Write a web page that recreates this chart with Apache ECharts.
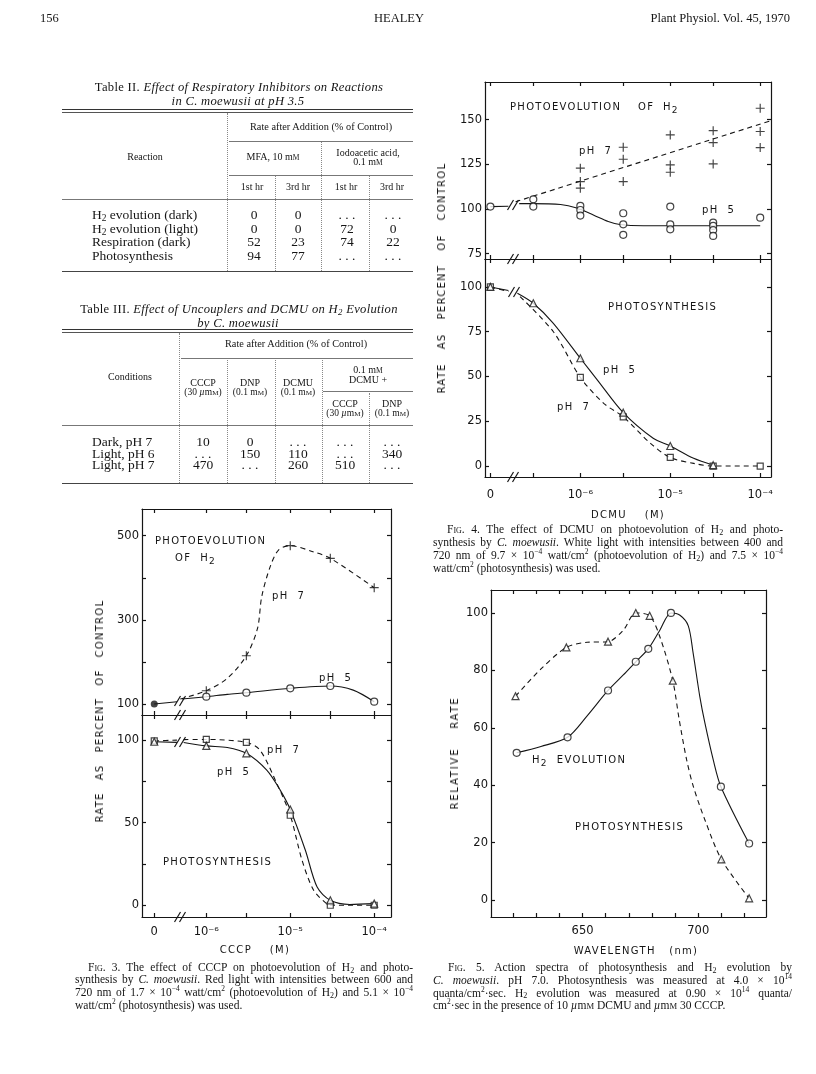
<!DOCTYPE html>
<html><head><meta charset="utf-8">
<script src="https://cdn.jsdelivr.net/npm/echarts@6/dist/echarts.min.js"></script>
<style>
html,body{margin:0;padding:0;background:#fff}
#page{position:relative;width:816px;height:1074px;background:#fff;overflow:hidden}
#c{position:absolute;left:0;top:0;width:816px;height:1074px;z-index:1}
.t{position:absolute;white-space:nowrap;line-height:1;color:#151515;z-index:2;font-family:'Liberation Serif',serif}
.r{position:absolute;z-index:2}
.lab{font-family:'DejaVu Sans',sans-serif;font-size:10px;letter-spacing:1.3px}
.sub{font-size:70%;position:relative;top:0.25em}
.csub{font-size:90%;position:relative;top:0.35em}
.sc{font-variant:small-caps}
</style></head>
<body><div id="page"><div id="c"></div></div>
<script>
// ---------------- DATA ----------------
// Fig. 4 (DCMU): concentrations (M); 0 = control
const fig4Conc = [0, 3e-7, 1e-6, 3e-6, 1e-5, 3e-5, 1e-4];
const fig4H2pH7 = [[], [], [122.8,115.3,111.6], [134.5,127.8,115.3], [141.4,124.6,120.5], [143.8,137.1,125.2], [156.3,143.3,134.3]];
const fig4H2pH5 = [[101.3], [105.4,101.3], [101.7,99.4,96.3], [97.6,91.4,85.5], [101.3,91.4,88.6], [92.3,90.5,88.2,84.9], [95.1]];
const fig4PSpH5 = [100, 90.9, 60.2, 29.8, 11.2, 0.5, null];
const fig4PSpH7 = [100, null, 49.5, 27.5, 4.8, 0, 0];
// hand-drawn curves of Fig. 4: [log10 M, value]
const fig4H2pH7Fit = [[-6.72,104],[-3.88,149.4]];
const fig4H2pH5Lead = [[-7,101.3],[-6.8,101.5]];
const fig4H2pH5Fit = [[-6.68,103],[-6.54,103],[-6.22,102.5],[-6.04,100.5],[-5.85,96.5],[-5.69,93],[-5.56,91.3],[-5.3,90.6],[-4,90.6]];
const fig4PSpH5Lead = [[-7,100],[-6.8,98]];
const fig4PSpH5Fit = [[-6.70,96.5],[-6.523,90.9],[-6.30,79.7],[-6,60.2],[-5.81,48],[-5.523,29.8],[-5.19,15.5],[-5,11.2],[-4.74,4.3],[-4.523,0.5]];
const fig4PSpH7Lead = [[-7,100],[-6.8,97.5]];
const fig4PSpH7Fit = [[-6.67,94.6],[-6.30,75],[-6,49.5],[-5.74,35],[-5.523,27.5],[-5.22,12.7],[-5,4.8],[-4.74,1.5],[-4.523,0],[-4,0]];
const fig4XLabels = ['0','10⁻⁶','10⁻⁵','10⁻⁴'];
const fig4XLabelConc = [0, 1e-6, 1e-5, 1e-4];
const fig4TopYTicks = [75,100,125,150];
const fig4BotYTicks = [0,25,50,75,100];

// Fig. 3 (CCCP)
const fig3Conc = [0, 1e-6, 3e-6, 1e-5, 3e-5, 1e-4];
const fig3H2pH7 = [null, 131.6, 214.8, 476.3, 446.3, 376.5];
const fig3H2pH5 = [100, 117.4, 126.9, 137.3, 142.8, 105.5];
const fig3PSpH7 = [99.5, 100.4, 98.6, 54.5, 0, 0];
const fig3PSpH5 = [99, 96.5, 92, 58, 3, 1];
const fig3H2pH5Lead = [[-6.62,100],[-6.35,105.5]];
const fig3H2pH5Fit = [[-6.29,112],[-6,117.4],[-5.75,123],[-5.523,126.9],[-5,137.3],[-4.523,142.8],[-4.25,133],[-4,105.5]];
const fig3H2pH7Fit = [[-6.31,112],[-6,131.6],[-5.75,161],[-5.523,214.8],[-5.39,280],[-5.34,355],[-5.24,426],[-5.14,466],[-5,476.3],[-4.73,462],[-4.523,446.3],[-4,376.5]];
const fig3PSpH7Lead = [[-6.62,99.5],[-6.35,100]];
const fig3PSpH7Fit = [[-6.27,100.3],[-6,100.4],[-5.523,98.6],[-5.36,93.9],[-5.16,73.7],[-5,54.5],[-4.86,27.3],[-4.72,9],[-4.56,0.6],[-4.523,0],[-4,0]];
const fig3PSpH5Lead = [[-6.62,99],[-6.35,98.6]];
const fig3PSpH5Fit = [[-6.27,98.6],[-6,96.5],[-5.75,95.5],[-5.523,92],[-5.28,81.8],[-5.12,69.7],[-5,58],[-4.82,33.3],[-4.68,11],[-4.523,3],[-4.29,0.5],[-4,1]];
const fig3XLabels = ['0','10⁻⁶','10⁻⁵','10⁻⁴'];
const fig3XLabelConc = [0, 1e-6, 1e-5, 1e-4];
const fig3TopYTicks = [100,200,300,400,500];
const fig3TopYLabels = [100,300,500];
const fig3BotYTicks = [0,25,50,75,100];
const fig3BotYLabels = [0,50,100];

// Fig. 5 (action spectra)
const fig5PSWl = [621,643,661,673,679,689,710,722];
const fig5PS   = [71,88,90,100,99,76.4,14.2,0.6];
const fig5H2Wl = [621.5,643.5,661,673,678.4,688.2,709.8,722];
const fig5H2   = [51.3,56.7,73,83,87.5,100,39.5,19.7];
const fig5PSFit = [[621,71],[632,80.5],[643,88],[652,89.8],[661,90],[667.6,94],[673,100],[679,99],[683.4,91.7],[689,76.4],[691.8,62.7],[695,48.8],[697.9,39.5],[702.9,27.9],[710,14.2],[722,0.6]];
const fig5H2Fit = [[621.5,51.3],[632,53.5],[643.5,56.7],[651.7,63.9],[661,73],[667.6,78.4],[673,83],[678.4,87.5],[683.4,94],[688.2,100],[692.1,99.2],[695.7,95.5],[697.8,86],[700.7,70.8],[702.9,61.6],[706.5,48.8],[709.8,39.5],[722,19.7]];
const fig5XTicks = [620,630,640,650,660,670,680,690,700,710,720];
const fig5XLabels = [650,700];
const fig5YTicks = [0,20,40,60,80,100];

// Tables
const t2Rows = ['H<span class="sub">2</span> evolution (dark)','H<span class="sub">2</span> evolution (light)','Respiration (dark)','Photosynthesis'];
const t2Vals = [['0','0','. . .','. . .'],['0','0','72','0'],['52','23','74','22'],['94','77','. . .','. . .']];
const t3Rows = ['Dark, pH 7','Light, pH 6','Light, pH 7'];
const t3Vals = [['10','0','. . .','. . .','. . .'],['. . .','150','110','. . .','340'],['470','. . .','260','510','. . .']];

// ---------------- LAYOUT HELPERS ----------------
const page = document.getElementById('page');
function put(html, x, y, o){
  o = o || {};
  const d = document.createElement('div');
  d.className = 't' + (o.cls ? ' ' + o.cls : '');
  d.innerHTML = html;
  const s = d.style;
  s.left = x + 'px'; s.top = y + 'px';
  if (o.size) s.fontSize = o.size + 'px';
  if (o.italic) s.fontStyle = 'italic';
  if (o.ls != null) s.letterSpacing = o.ls + 'px';
  if (o.ws != null) s.wordSpacing = o.ws + 'px';
  let tr;
  if (o.width){ s.width = o.width + 'px'; s.textAlign='justify'; s.textAlignLast='justify'; tr='translate(0,-50%)'; }
  else if (o.anchor === 'l') tr = 'translate(0,-50%)';
  else if (o.anchor === 'r') tr = 'translate(-100%,-50%)';
  else tr = 'translate(-50%,-50%)';
  if (o.rot) tr += ' rotate(-90deg)';
  s.transform = tr;
  page.appendChild(d);
  return d;
}
function hr(x1, x2, y, w, col, st){
  const d = document.createElement('div'); d.className='r';
  d.style.left=x1+'px'; d.style.top=y+'px'; d.style.width=(x2-x1)+'px'; d.style.height='0';
  d.style.borderTop=(w||1)+'px '+(st||'solid')+' '+(col||'#555');
  page.appendChild(d);
}
function vr(x, y1, y2, w, col, st){
  const d = document.createElement('div'); d.className='r';
  d.style.left=x+'px'; d.style.top=y1+'px'; d.style.height=(y2-y1)+'px'; d.style.width='0';
  d.style.borderLeft=(w||1)+'px '+(st||'dotted')+' '+(col||'#888');
  page.appendChild(d);
}

// ---------------- HEADER ----------------
put('156', 40, 18, {anchor:'l', size:12.5});
put('HEALEY', 399, 18, {size:12.5});
put('Plant Physiol. Vol. 45, 1970', 790, 18, {anchor:'r', size:12.5});

// ---------------- TABLE II ----------------
put('Table II. <i>Effect of Respiratory Inhibitors on Reactions</i>', 239, 87, {size:12.6, ls:0.3});
put('<i>in C. moewusii at pH 3.5</i>', 238, 101, {size:12.6, ls:0.3});
hr(62,413,109,1.3,'#333'); hr(62,413,112,1,'#555');
vr(227,113,271);
put('Rate after Addition (% of Control)', 321, 127, {size:10.3});
hr(229,413,141,1,'#777');
put('Reaction', 145, 157, {size:10});
put('MFA, 10 m<span style="font-size:75%">M</span>', 273, 157, {size:10});
put('Iodoacetic acid,', 368, 153, {size:10});
put('0.1 m<span style="font-size:75%">M</span>', 368, 162, {size:10});
vr(321,142,271);
hr(229,413,175,1,'#777');
['1st hr','3rd hr','1st hr','3rd hr'].forEach((h,i)=>put(h,[252,298,346,392][i],187,{size:10}));
vr(275,176,271); vr(369,176,271);
hr(62,413,199,1,'#777');
t2Rows.forEach((r,i)=>{
  const y = 215 + i*13.7;
  put(r, 92, y, {anchor:'l', size:13.5});
  t2Vals[i].forEach((v,j)=>put(v,[254,298,347,393][j],y,{size:13.5}));
});
hr(62,413,271,1.3,'#444');

// ---------------- TABLE III ----------------
put('Table III. <i>Effect of Uncouplers and DCMU on H<span class="sub">2</span> Evolution</i>', 239, 309, {size:12.6, ls:0.3});
put('<i>by C. moewusii</i>', 238, 323, {size:12.6, ls:0.3});
hr(62,413,329,1.3,'#333'); hr(62,413,332,1,'#555');
vr(179,333,483);
put('Rate after Addition (% of Control)', 296, 344, {size:10.3});
hr(181,413,358,1,'#777');
put('Conditions', 130, 377, {size:10});
put('CCCP', 203, 383, {size:10}); put('(30 <i>µ</i>m<span style="font-size:75%">M</span>)', 203, 393, {size:9.5});
put('DNP', 250, 383, {size:10}); put('(0.1 m<span style="font-size:75%">M</span>)', 250, 393, {size:9.5});
put('DCMU', 298, 383, {size:10}); put('(0.1 m<span style="font-size:75%">M</span>)', 298, 393, {size:9.5});
put('0.1 m<span style="font-size:75%">M</span>', 368, 370, {size:10});
put('DCMU +', 368, 380, {size:10});
vr(227,360,483); vr(275,360,483); vr(322,360,483); vr(369,393,483);
hr(323,413,391,1,'#777');
put('CCCP', 345, 404, {size:10}); put('(30 <i>µ</i>m<span style="font-size:75%">M</span>)', 345, 414, {size:9.5});
put('DNP', 392, 404, {size:10}); put('(0.1 m<span style="font-size:75%">M</span>)', 392, 414, {size:9.5});
hr(62,413,425,1,'#777');
t3Rows.forEach((r,i)=>{
  const y = 442 + i*11.7;
  put(r, 92, y, {anchor:'l', size:13.5});
  t3Vals[i].forEach((v,j)=>put(v,[203,250,298,345,392][j],y,{size:13.5}));
});
hr(62,413,483,1.3,'#444');

// ---------------- CHART ANNOTATIONS ----------------
const H2 = 'H<span class="csub">2</span>';
// Fig 4
put('PHOTOEVOLUTION', 510, 107, {anchor:'l', cls:'lab'});
put('OF', 638, 107, {anchor:'l', cls:'lab'});
put(H2, 663, 107, {anchor:'l', cls:'lab'});
put('pH&nbsp;&nbsp;7', 579, 151, {anchor:'l', cls:'lab'});
put('pH&nbsp;&nbsp;5', 702, 210, {anchor:'l', cls:'lab'});
put('PHOTOSYNTHESIS', 608, 307, {anchor:'l', cls:'lab'});
put('pH&nbsp;&nbsp;5', 603, 370, {anchor:'l', cls:'lab'});
put('pH&nbsp;&nbsp;7', 557, 407, {anchor:'l', cls:'lab'});
put('RATE AS PERCENT OF CONTROL', 442, 278, {cls:'lab', rot:true, ws:9.5});
put('DCMU&nbsp;&nbsp;&nbsp;&nbsp;(M)', 628, 515, {cls:'lab'});
// Fig 3
put('PHOTOEVOLUTION', 155, 541, {anchor:'l', cls:'lab'});
put('OF&nbsp;&nbsp;'+H2, 175, 558, {anchor:'l', cls:'lab'});
put('pH&nbsp;&nbsp;7', 272, 596, {anchor:'l', cls:'lab'});
put('pH&nbsp;&nbsp;5', 319, 678, {anchor:'l', cls:'lab'});
put('pH&nbsp;&nbsp;7', 267, 750, {anchor:'l', cls:'lab'});
put('pH&nbsp;&nbsp;5', 217, 772, {anchor:'l', cls:'lab'});
put('PHOTOSYNTHESIS', 163, 862, {anchor:'l', cls:'lab'});
put('RATE AS PERCENT OF CONTROL', 100, 711, {cls:'lab', rot:true, ws:7.5});
put('CCCP&nbsp;&nbsp;&nbsp;&nbsp;(M)', 255, 950, {cls:'lab'});
// Fig 5
put(H2+'&nbsp;&nbsp;EVOLUTION', 532, 760, {anchor:'l', cls:'lab'});
put('PHOTOSYNTHESIS', 575, 827, {anchor:'l', cls:'lab'});
put('RELATIVE RATE', 455, 753, {cls:'lab', rot:true, ws:14, ls:1.8});
put('WAVELENGTH&nbsp;&nbsp;&nbsp;(nm)', 636, 951, {cls:'lab'});

// ---------------- CAPTIONS ----------------
const HS = 'H<span class="sub">2</span>';
function caption(lines, x1, xIndent, x2, y0, dy){
  lines.forEach((l,i)=>{
    const x = i===0 ? xIndent : x1;
    const last = i === lines.length-1;
    put(l, x, y0 + i*dy, last ? {anchor:'l', size:11.5} : {width:x2-x, size:11.5});
  });
}
caption([
  '<span class="sc">Fig</span>. 4. The effect of DCMU on photoevolution of '+HS+' and photo-',
  'synthesis by <i>C. moewusii</i>. White light with intensities between 400 and',
  '720 nm of 9.7 × 10<sup style="font-size:65%">−4</sup> watt/cm<sup style="font-size:65%">2</sup> (photoevolution of '+HS+') and 7.5 × 10<sup style="font-size:65%">−4</sup>',
  'watt/cm<sup style="font-size:65%">2</sup> (photosynthesis) was used.'
], 433, 447, 783, 530, 12.6);
caption([
  '<span class="sc">Fig</span>. 3. The effect of CCCP on photoevolution of '+HS+' and photo-',
  'synthesis by <i>C. moewusii</i>. Red light with intensities between 600 and',
  '720 nm of 1.7 × 10<sup style="font-size:65%">−4</sup> watt/cm<sup style="font-size:65%">2</sup> (photoevolution of '+HS+') and 5.1 × 10<sup style="font-size:65%">−4</sup>',
  'watt/cm<sup style="font-size:65%">2</sup> (photosynthesis) was used.'
], 75, 88, 413, 968, 12.2);
caption([
  '<span class="sc">Fig</span>. 5. Action spectra of photosynthesis and '+HS+' evolution by',
  '<i>C. moewusii</i>. pH 7.0. Photosynthesis was measured at 4.0 × 10<sup style="font-size:65%">14</sup>',
  'quanta/cm<sup style="font-size:65%">2</sup>·sec. '+HS+' evolution was measured at 0.90 × 10<sup style="font-size:65%">14</sup> quanta/',
  'cm<sup style="font-size:65%">2</sup>·sec in the presence of 10 <i>µ</i>m<span style="font-size:75%">M</span> DCMU and <i>µ</i>m<span style="font-size:75%">M</span> 30 CCCP.'
], 433, 448, 792, 968, 12.3);

// ---------------- ECHARTS ----------------
const INK = '#151515';
const CF = 'DejaVu Sans';
const FIG4_ZERO = -7;      // axis position used for zero concentration (broken log axis)
const FIG3_ZERO = -6.62;
const p4 = c => c === 0 ? FIG4_ZERO : Math.log10(c);
const p3 = c => c === 0 ? FIG3_ZERO : Math.log10(c);

const grids = [
  {left:485, top:82,  width:286, height:177},
  {left:485, top:259, width:286, height:218},
  {left:142, top:509, width:249, height:206},
  {left:142, top:715, width:249, height:202},
  {left:491, top:590, width:275, height:327}
];
const lineSt = {color:INK, width:1.2};
function xAxes(gi, min, max, ticks, labels, fmt, margin){
  const base = () => ({gridIndex:gi, type:'value', min, max, splitLine:{show:false},
    axisLine:{show:true, onZero:false, lineStyle:lineSt},
    axisTick:{show:true, inside:true, length:4, customValues:ticks, lineStyle:lineSt}});
  const b = base(); b.position='bottom';
  b.axisLabel = labels ? {show:true, customValues:labels, formatter:fmt, margin:margin, fontFamily:CF, fontSize:11.5, color:INK} : {show:false};
  const t = base(); t.position='top'; t.axisLabel={show:false};
  return [b,t];
}
function yAxes(gi, min, max, ticks, labels){
  const base = () => ({gridIndex:gi, type:'value', min, max, splitLine:{show:false},
    axisLine:{show:true, onZero:false, lineStyle:lineSt},
    axisTick:{show:true, inside:true, length:4, customValues:ticks, lineStyle:lineSt}});
  const l = base(); l.position='left';
  l.axisLabel = {show:true, customValues:labels, margin:3, fontFamily:CF, fontSize:11.5, color:INK};
  const r = base(); r.position='right'; r.axisLabel={show:false};
  return [l,r];
}
const labFmt = (concs, labs, pf) => v => { let k=0,b=1e9; concs.forEach((c,i)=>{const d=Math.abs(pf(c)-v); if(d<b){b=d;k=i;}}); return labs[k]; };

const fig4Ticks = fig4Conc.map(p4);
const fig3Ticks = fig3Conc.map(p3);
const xA = [
  ...xAxes(0, -7.06, -3.88, fig4Ticks, null),
  ...xAxes(1, -7.06, -3.88, fig4Ticks, fig4XLabelConc.map(p4), labFmt(fig4XLabelConc, fig4XLabels, p4), 12),
  ...xAxes(2, -6.766, -3.80, fig3Ticks, null),
  ...xAxes(3, -6.766, -3.80, fig3Ticks, fig3XLabelConc.map(p3), labFmt(fig3XLabelConc, fig3XLabels, p3), 9),
  ...xAxes(4, 610.4, 729.3, fig5XTicks, fig5XLabels, v => String(v), 8)
];
const yA = [
  ...yAxes(0, 72, 171, fig4TopYTicks, fig4TopYTicks),
  ...yAxes(1, -6.1, 115.6, fig4BotYTicks, fig4BotYTicks),
  ...yAxes(2, 73.9, 563.5, fig3TopYTicks, fig3TopYLabels),
  ...yAxes(3, -7.1, 115.2, fig3BotYTicks, fig3BotYLabels),
  ...yAxes(4, -5.9, 108, fig5YTicks, fig5YTicks)
];

const MARK = {
  plus:  {symbol:'path://M4.35,0H5.65V4.35H10V5.65H5.65V10H4.35V5.65H0V4.35H4.35Z', size:9, style:{color:INK}},
  circle:{symbol:'circle', size:7, style:{color:'#fff', borderColor:INK, borderWidth:1.2}},
  dot:   {symbol:'circle', size:7, style:{color:INK}},
  tri:   {symbol:'triangle', size:7, style:{color:'#fff', borderColor:INK, borderWidth:1.2}},
  sq:    {symbol:'rect', size:6, style:{color:'#fff', borderColor:INK, borderWidth:1.2}}
};
const series = [];
function curve(gi, pts, dashed){
  series.push({type:'line', xAxisIndex:2*gi, yAxisIndex:2*gi, data:pts, smooth:0.3, symbol:'none', showSymbol:false,
    silent:true, z:2, lineStyle:{color:INK, width:1.1, type: dashed ? [5,4] : 'solid'}});
}
function marks(gi, pts, kind){
  const m = MARK[kind];
  series.push({type:'scatter', xAxisIndex:2*gi, yAxisIndex:2*gi, data:pts, symbol:m.symbol, symbolSize:m.size,
    silent:true, z:3, itemStyle:m.style});
}
function pairs(conc, vals, pf){
  const out = [];
  conc.forEach((c,i)=>{ const v = vals[i]; if (v == null) return;
    (Array.isArray(v) ? v : [v]).forEach(y => out.push([pf(c), y])); });
  return out;
}
// Fig 4 top
curve(0, fig4H2pH7Fit, true);
curve(0, fig4H2pH5Lead, false);
curve(0, fig4H2pH5Fit, false);
marks(0, pairs(fig4Conc, fig4H2pH7, p4), 'plus');
marks(0, pairs(fig4Conc, fig4H2pH5, p4), 'circle');
// Fig 4 bottom
curve(1, fig4PSpH5Lead, false); curve(1, fig4PSpH5Fit, false);
curve(1, fig4PSpH7Lead, true);  curve(1, fig4PSpH7Fit, true);
marks(1, pairs(fig4Conc, fig4PSpH7, p4), 'sq');
marks(1, pairs(fig4Conc, fig4PSpH5, p4), 'tri');
// Fig 3 top
curve(2, fig3H2pH5Lead, false); curve(2, fig3H2pH5Fit, false);
curve(2, fig3H2pH7Fit, true);
marks(2, pairs(fig3Conc, fig3H2pH7, p3), 'plus');
marks(2, pairs(fig3Conc.slice(1), fig3H2pH5.slice(1), p3), 'circle');
marks(2, pairs(fig3Conc.slice(0,1), fig3H2pH5.slice(0,1), p3), 'dot');
// Fig 3 bottom
curve(3, fig3PSpH5Lead, false); curve(3, fig3PSpH5Fit, false);
curve(3, fig3PSpH7Lead, true);  curve(3, fig3PSpH7Fit, true);
marks(3, pairs(fig3Conc, fig3PSpH7, p3), 'sq');
marks(3, pairs(fig3Conc, fig3PSpH5, p3), 'tri');
// Fig 5
curve(4, fig5PSFit, true);
curve(4, fig5H2Fit, false);
marks(4, fig5PSWl.map((w,i)=>[w, fig5PS[i]]), 'tri');
marks(4, fig5H2Wl.map((w,i)=>[w, fig5H2[i]]), 'circle');

// axis-break marks "//"
const breaks = [[513,205],[513,259],[514,292],[513,477],[180,701],[180,715],[180,742],[180,917]];
const graphic = [];
breaks.forEach(([x,y])=>{
  [-2.5,2.5].forEach(dx=>graphic.push({type:'line', z:10, shape:{x1:x+dx-3, y1:y+5, x2:x+dx+3, y2:y-5}, style:{stroke:INK, lineWidth:1.2}}));
});

const chart = echarts.init(document.getElementById('c'), null, {renderer:'canvas', width:816, height:1074});
chart.setOption({
  animation:false,
  backgroundColor:'transparent',
  grid: grids.map(g => Object.assign({containLabel:false}, g)),
  xAxis: xA, yAxis: yA, series, graphic
});
</script></body></html>
